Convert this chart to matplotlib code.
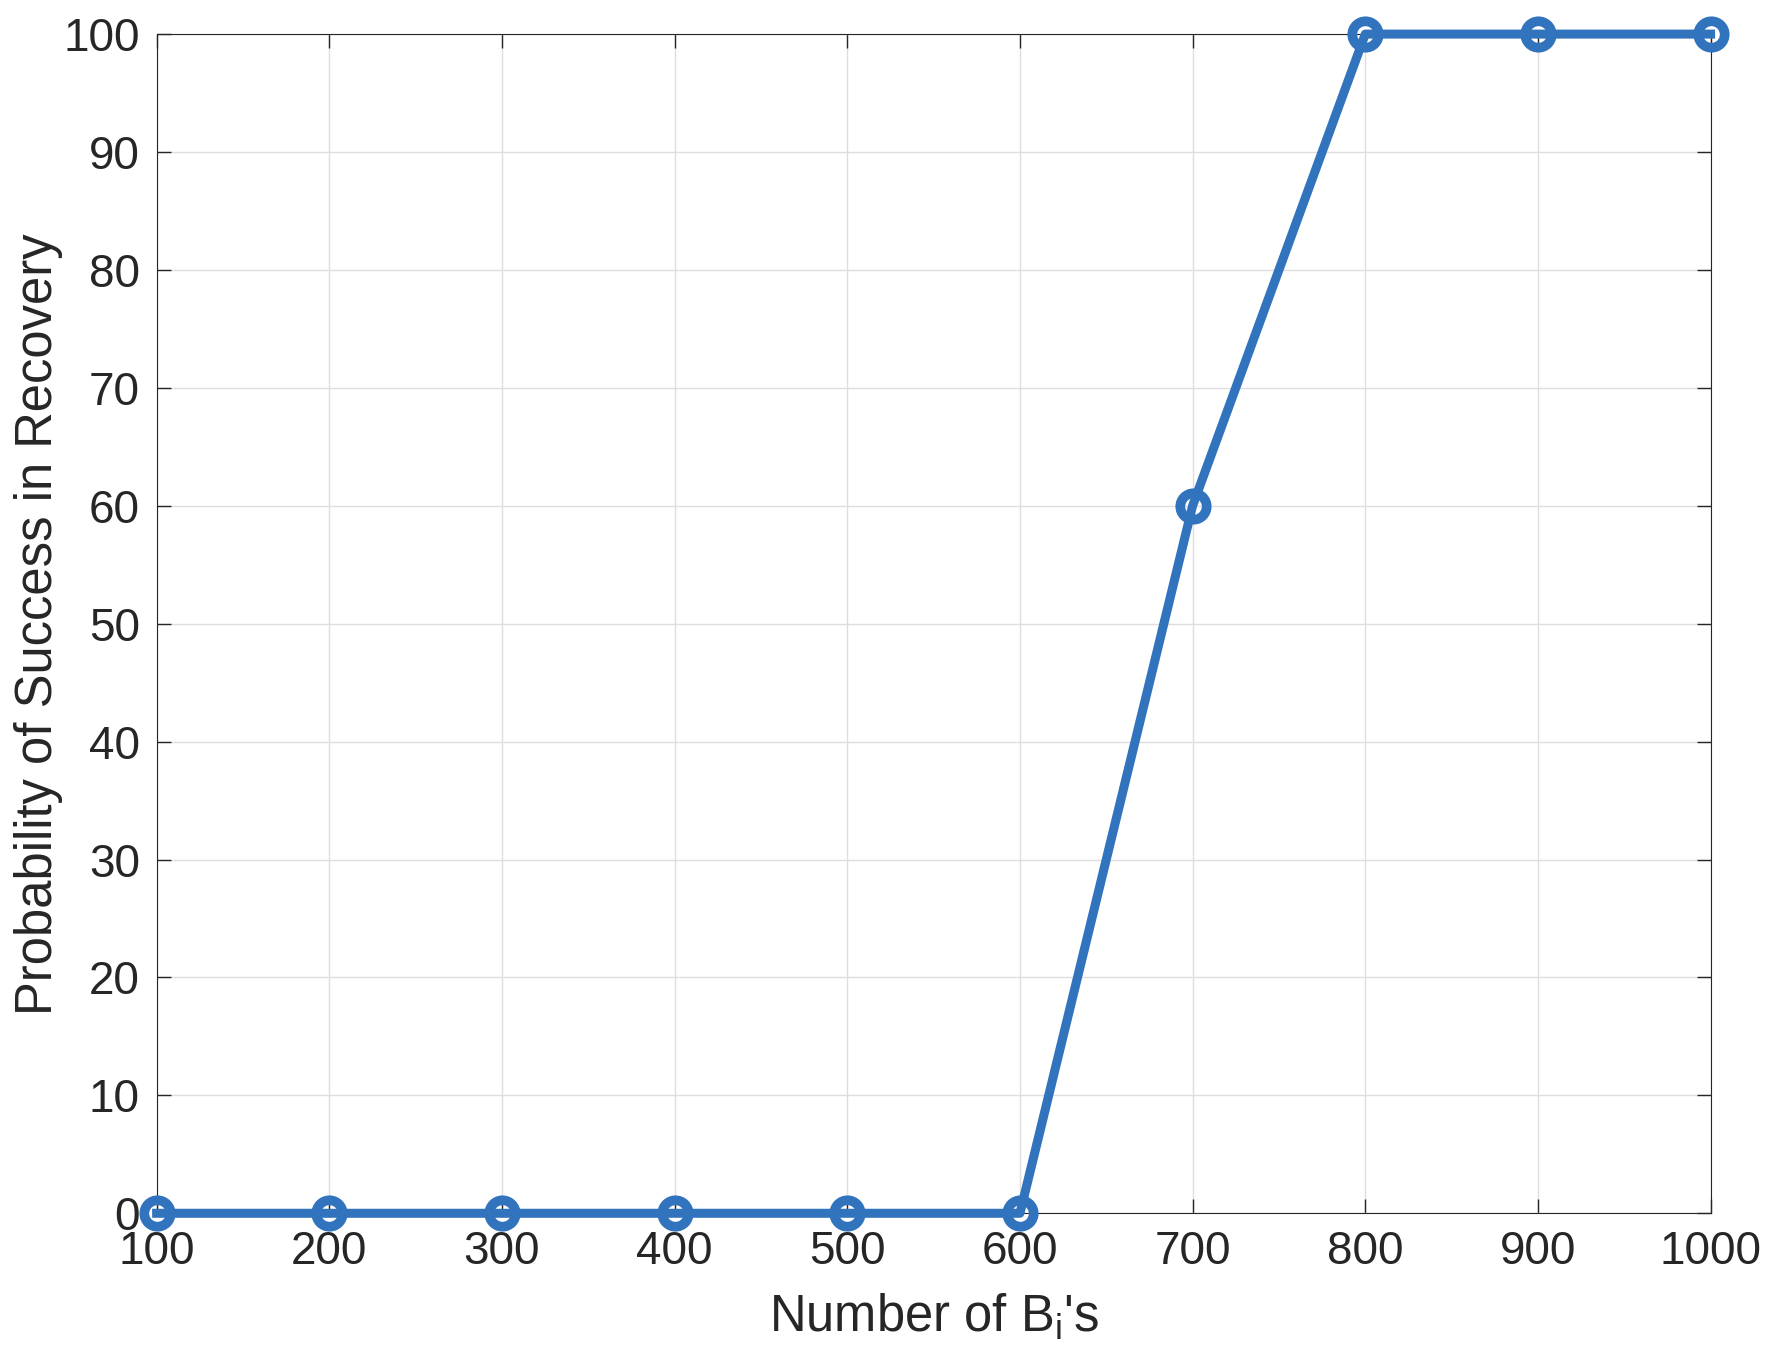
import matplotlib
matplotlib.use("Agg")
from matplotlib import pyplot as plt

num_b = [100, 200, 300, 400, 500, 600, 700, 800, 900, 1000]
success = [0, 0, 0, 0, 0, 0, 60, 100, 100, 100]
y_ticks = [0, 10, 20, 30, 40, 50, 60, 70, 80, 90, 100]

plt.rcParams['font.family'] = ['Liberation Sans', 'DejaVu Sans']
plt.rcParams['mathtext.fontset'] = 'custom'
plt.rcParams['mathtext.rm'] = 'Liberation Sans'
plt.rcParams['mathtext.it'] = 'Liberation Sans'

text_col = '#262626'

fig = plt.figure(figsize=(17.8, 13.64), dpi=100)
ax = fig.add_axes([0.088, 0.1105, 0.873, 0.8645])

ax.plot(num_b, success, color='#3173BD', linewidth=6.5, marker='o',
        markersize=19, markerfacecolor='none', markeredgewidth=7,
        clip_on=False, zorder=3)

ax.set_xlim(100, 1000)
ax.set_ylim(0, 100)
ax.set_xticks(num_b)
ax.set_yticks(y_ticks)

ax.grid(True, color='#dedede', linewidth=1)
ax.set_axisbelow(True)

ax.tick_params(direction='in', length=10, width=1, top=True, right=True,
               labelsize=33, colors=text_col, pad=12)
for sp in ax.spines.values():
    sp.set_color(text_col)
    sp.set_linewidth(0.8)

ax.set_xlabel(r"Number of B$_{\mathregular{i}}$'s", fontsize=36.5, color=text_col, labelpad=13)
ax.set_ylabel("Probability of Success in Recovery", fontsize=36.5, color=text_col, labelpad=0)

fig.savefig("out.png", dpi=100)
